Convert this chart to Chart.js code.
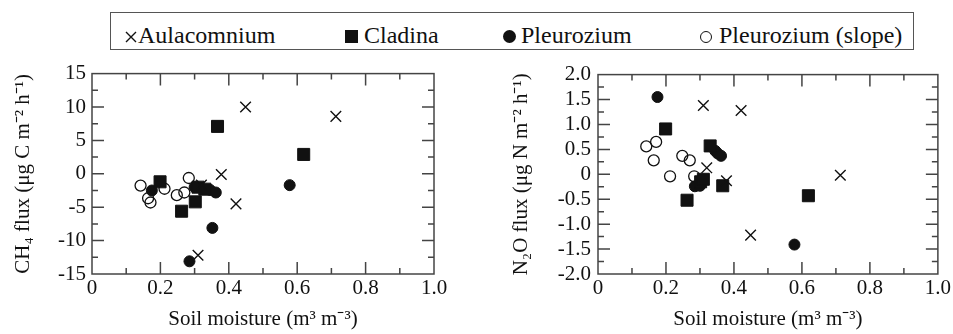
<!DOCTYPE html>
<html>
<head>
<meta charset="utf-8">
<script src="https://cdn.jsdelivr.net/npm/chart.js@4.4.1/dist/chart.umd.min.js"></script>
<style>
  body { margin: 0; width: 953px; height: 334px; background: #fff; position: relative; overflow: hidden; font-family: 'Liberation Serif', 'Times New Roman', serif; color: #111; }
  #legend { position: absolute; left: 110px; top: 12px; width: 804px; height: 38px; box-sizing: border-box; border: 1.5px solid #555; }
  .txt { position: absolute; top: 23px; font-size: 24px; line-height: 24px; white-space: nowrap; }
  .sq { position: absolute; left: 345px; top: 30px; width: 13px; height: 13px; background: #111; }
  .dot { position: absolute; left: 503px; top: 30px; width: 13px; height: 13px; border-radius: 50%; background: #111; }
  .ring { position: absolute; left: 700px; top: 31px; width: 10px; height: 10px; border-radius: 50%; border: 1.4px solid #111; }
  .cross { position: absolute; left: 125px; top: 31px; }
  .panel { position: absolute; top: 55px; height: 279px; }
</style>
</head>
<body>
<div id="legend"></div>
<svg class="cross" width="12" height="12"><path d="M1 1 L11 11 M11 1 L1 11" stroke="#111" stroke-width="1.4"/></svg>
<span class="txt" style="left:138px">Aulacomnium</span>
<div class="sq"></div>
<span class="txt" style="left:364px">Cladina</span>
<div class="dot"></div>
<span class="txt" style="left:521px">Pleurozium</span>
<div class="ring"></div>
<span class="txt" style="left:719px">Pleurozium (slope)</span>

<div class="panel" style="left:0px;width:470px"><canvas id="ch4"></canvas></div>
<div class="panel" style="left:490px;width:463px"><canvas id="n2o"></canvas></div>

<script>
// soil moisture (m3 m-3) and fluxes
const aulaMoisture = [0.31, 0.32, 0.378, 0.421, 0.449, 0.713];
const aulaCH4 = [-12.2, -1.7, -0.1, -4.5, 10.0, 8.6];
const aulaN2O = [1.38, 0.13, -0.13, 1.28, -1.22, -0.02];

const cladMoisture = [0.199, 0.262, 0.302, 0.31, 0.33, 0.367, 0.619];
const cladCH4 = [-1.2, -5.6, -4.2, -2.0, -2.3, 7.1, 2.9];
const cladN2O = [0.91, -0.52, -0.15, -0.1, 0.57, -0.23, -0.43];

const pleuMoisture = [0.175, 0.285, 0.30, 0.345, 0.352, 0.362, 0.578];
const pleuCH4 = [-2.5, -13.1, -2.0, -2.4, -8.1, -2.8, -1.7];
const pleuN2O = [1.55, -0.24, -0.23, 0.47, 0.42, 0.37, -1.41];

const slopeMoisture = [0.142, 0.164, 0.171, 0.212, 0.248, 0.27, 0.283];
const slopeCH4 = [-1.76, -3.66, -4.3, -2.24, -3.2, -2.8, -0.63];
const slopeN2O = [0.56, 0.28, 0.65, -0.04, 0.37, 0.28, -0.04];

const seriesNames = ['Aulacomnium', 'Cladina', 'Pleurozium', 'Pleurozium (slope)'];

const FONT = "'Liberation Serif', 'Times New Roman', serif";
const INK = '#111';

function pts(xs, ys) {
  return xs.map((x, i) => ({ x: x, y: ys[i] }));
}

// box around the plot with inward major/minor ticks on all four sides
const frame = {
  id: 'frame',
  beforeDatasetsDraw(chart, args, o) {
    const { ctx, chartArea: a, scales } = chart;
    ctx.save();
    ctx.strokeStyle = '#444';
    ctx.lineWidth = 1.5;
    const ticks = (scale, minor, major, horiz) => {
      const n = Math.round((scale.max - scale.min) / minor);
      ctx.beginPath();
      for (let i = 1; i < n; i++) {
        const v = scale.min + i * minor;
        const r = v / major;
        const len = Math.abs(r - Math.round(r)) < 1e-6 ? 12 : 6;
        const p = scale.getPixelForValue(v);
        if (horiz) {
          ctx.moveTo(p, a.bottom); ctx.lineTo(p, a.bottom - len);
          ctx.moveTo(p, a.top); ctx.lineTo(p, a.top + len);
        } else {
          ctx.moveTo(a.left, p); ctx.lineTo(a.left + len, p);
          ctx.moveTo(a.right, p); ctx.lineTo(a.right - len, p);
        }
      }
      ctx.stroke();
    };
    ticks(scales.x, o.xMinor, o.xMajor, true);
    ticks(scales.y, o.yMinor, o.yMajor, false);
    ctx.strokeRect(a.left, a.top, a.width, a.height);
    ctx.restore();
  }
};

function makeChart(id, ys, cfg) {
  const datasets = [
    { label: seriesNames[0], data: pts(aulaMoisture, ys[0]), pointStyle: 'crossRot',
      radius: 7.5, borderWidth: 1.4, borderColor: INK, backgroundColor: INK },
    { label: seriesNames[1], data: pts(cladMoisture, ys[1]), pointStyle: 'rect',
      radius: 8.5, borderWidth: 1, borderColor: INK, backgroundColor: INK },
    { label: seriesNames[2], data: pts(pleuMoisture, ys[2]), pointStyle: 'circle',
      radius: 5.5, borderWidth: 1, borderColor: INK, backgroundColor: INK },
    { label: seriesNames[3], data: pts(slopeMoisture, ys[3]), pointStyle: 'circle',
      radius: 5.5, borderWidth: 1.3, borderColor: INK, backgroundColor: 'rgba(255,255,255,0)' }
  ];
  return new Chart(document.getElementById(id), {
    type: 'scatter',
    data: { datasets: datasets },
    options: {
      responsive: true,
      maintainAspectRatio: false,
      animation: false,
      layout: { padding: { top: 14, right: cfg.padRight, left: 0, bottom: 0 } },
      plugins: {
        legend: { display: false },
        tooltip: { enabled: false },
        frame: { xMinor: 0.1, xMajor: 0.2, yMinor: cfg.yMinor, yMajor: cfg.yStep }
      },
      scales: {
        x: {
          type: 'linear', min: 0, max: 1,
          afterFit: s => { s.height = 60; },
          grid: { display: false, drawTicks: false },
          border: { display: false },
          ticks: {
            stepSize: 0.2, padding: 2, color: INK, maxRotation: 0, autoSkip: false,
            font: { family: FONT, size: 21 },
            callback: v => (Math.abs(v) < 1e-9 ? '0' : v.toFixed(1))
          },
          title: {
            display: true, text: 'Soil moisture (m³ m⁻³)', color: INK,
            font: { family: FONT, size: 21 }, padding: { top: 0, bottom: 1.5 }
          }
        },
        y: {
          type: 'linear', min: cfg.yMin, max: cfg.yMax,
          afterFit: s => { s.width = cfg.yWidth; },
          grid: { display: false, drawTicks: false },
          border: { display: false },
          ticks: {
            stepSize: cfg.yStep, padding: cfg.yPad, color: INK, autoSkip: false,
            font: { family: FONT, size: 21 },
            callback: cfg.yFmt
          },
          title: {
            display: true, text: cfg.yTitle, color: INK,
            font: { family: FONT, size: 21 }, padding: { top: cfg.titlePad, bottom: 0 }
          }
        }
      }
    },
    plugins: [frame]
  });
}

makeChart('ch4', [aulaCH4, cladCH4, pleuCH4, slopeCH4], {
  yMin: -15, yMax: 15, yStep: 5, yMinor: 2.5, yWidth: 92, padRight: 36, yPad: 6, titlePad: 11,
  yTitle: 'CH₄ flux (μg C m⁻² h⁻¹)',
  yFmt: v => String(Math.round(v))
});

makeChart('n2o', [aulaN2O, cladN2O, pleuN2O, slopeN2O], {
  yMin: -2, yMax: 2, yStep: 0.5, yMinor: 0.25, yWidth: 108, padRight: 14, yPad: 7, titlePad: 19,
  yTitle: 'N₂O flux (μg N m⁻² h⁻¹)',
  yFmt: v => (Math.abs(v) < 1e-9 ? '0' : v.toFixed(1))
});
</script>
</body>
</html>
